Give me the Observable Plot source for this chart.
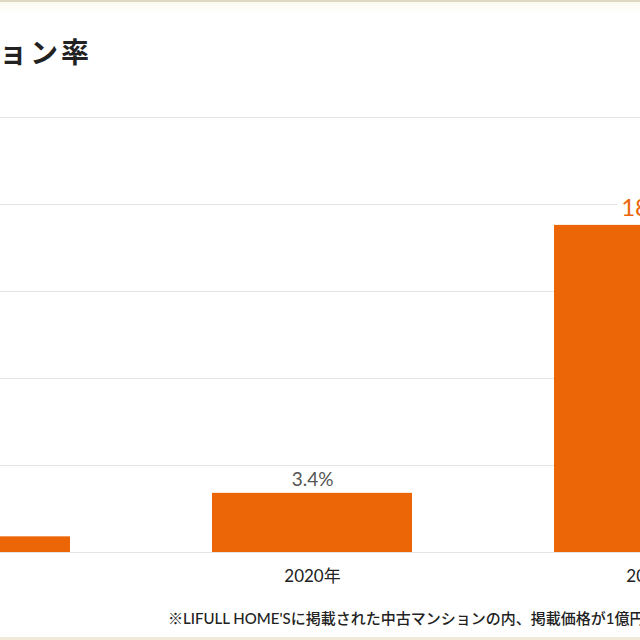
<!DOCTYPE html>
<html><head><meta charset="utf-8">
<script src="https://cdn.jsdelivr.net/npm/d3@7"></script>
<script src="https://cdn.jsdelivr.net/npm/@observablehq/plot@0.6"></script>
<style>
html,body{margin:0;padding:0;background:#fff;}
body{width:640px;height:640px;overflow:hidden;position:relative;font-family:Lato,"Noto Sans CJK JP",sans-serif;}
#topline{position:absolute;left:0;top:0;width:640px;height:2px;background:#dcd8c4;}
#topfade{position:absolute;left:0;top:2px;width:640px;height:12px;background:linear-gradient(#fbfaef,#ffffff);}
#botline{position:absolute;left:0;top:637px;width:640px;height:3px;background:#f1ead8;}
#title{position:absolute;right:548px;top:31px;white-space:nowrap;font-size:28px;letter-spacing:3px;font-weight:bold;color:#222;font-family:"Noto Sans CJK JP",sans-serif;}
#chart{position:absolute;left:-273px;top:0;width:1171px;height:640px;}
#chart svg{max-width:none !important;}
#caption{position:absolute;left:168px;top:607px;white-space:nowrap;font-size:15px;color:#222;font-family:Lato,"Noto Sans CJK JP",sans-serif;font-weight:500;}
</style></head>
<body>
<div id="topline"></div><div id="topfade"></div>
<div id="title"></div>
<div id="chart"></div>
<div id="caption"></div>
<div id="botline"></div>
<script>
const titleText = "1億円以上の中古マンション率";
const captionText = "※LIFULL HOME'Sに掲載された中古マンションの内、掲載価格が1億円以上の物件の割合";
const categories = ["2015年", "2020年", "2023年"];
const rates = [0.9, 3.4, 18.8];
const highlight = [false, false, true];
const yTicks = [0, 5, 10, 15, 20, 25];

document.getElementById("title").textContent = titleText;
document.getElementById("caption").textContent = captionText;

const data = categories.map((c, i) => ({year: c, rate: rates[i], hi: highlight[i]}));
const orange = "#EC6507";

const chart = Plot.plot({
  width: 1171, height: 640,
  marginLeft: 0, marginRight: 0, marginTop: 117, marginBottom: 88,
  style: {fontFamily: 'Lato, "Noto Sans CJK JP", sans-serif', background: "transparent", maxWidth: "none"},
  x: {domain: categories, padding: 0.414},
  y: {domain: [0, 25], axis: null},
  marks: [
    Plot.gridY(yTicks, {stroke: "#e4e4e4", strokeOpacity: 1}),
    Plot.text(data.filter(d => !d.hi), {x: "year", y: "rate", text: d => d.rate + "%", lineAnchor: "bottom", dy: -7, fontSize: 19, fill: "#555", stroke: "white", strokeWidth: 12, paintOrder: "stroke"}),
    Plot.text(data.filter(d => d.hi), {x: "year", y: "rate", text: d => d.rate + "%", lineAnchor: "bottom", dy: -9, fontSize: 24, fill: orange, stroke: "white", strokeWidth: 12, paintOrder: "stroke"}),
    Plot.barY(data, {x: "year", y: "rate", fill: orange}),
    Plot.axisX({tickSize: 0, tickPadding: 17, fontSize: 17, color: "#222", label: null})
  ]
});
document.getElementById("chart").appendChild(chart);
</script>
</body></html>
